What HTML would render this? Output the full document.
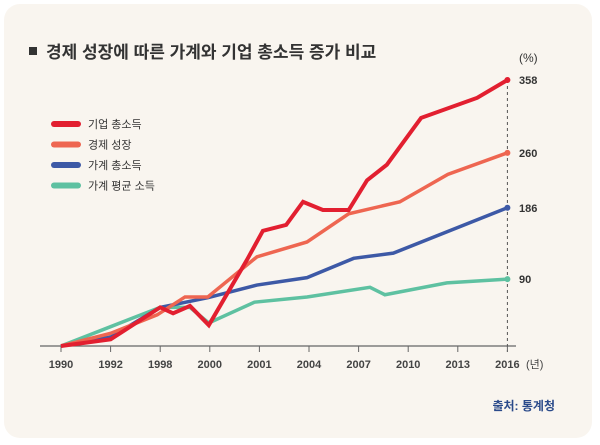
<!DOCTYPE html>
<html><head><meta charset="utf-8"><style>
body{margin:0;background:#fff;width:600px;height:445px;overflow:hidden}
svg{display:block;font-family:"Liberation Sans","Noto Sans CJK KR",sans-serif}
</style></head><body>
<svg width="600" height="445">
<rect x="4" y="4" width="588" height="434" rx="16" fill="#f9f5ef"/>
<rect x="29" y="47" width="8" height="8" fill="#333"/>
<text x="46" y="58" font-size="17" font-weight="bold" fill="#333">경제 성장에 따른 가계와 기업 총소득 증가 비교</text>
<text x="519" y="62" font-size="12" fill="#333">(%)</text>
<g id="legend"></g>
<g id="axis"></g>
<g id="lines"></g>
<text x="555" y="410" font-size="12" font-weight="bold" fill="#2a4a8a" text-anchor="end">출처: 통계청</text>
</svg>
<script>
const categories=["1990","1992","1998","2000","2001","2004","2007","2010","2013","2016"];
const endLabels=["358","260","186","90"];
const seriesNames=["기업 총소득","경제 성장","가계 총소득","가계 평균 소득"];
const colors=["#e21f30","#ee6651","#3d59a6","#5ec1a1"];
const corpX=[0,1,2,2.26,2.6,2.98,3.75,4.07,4.54,4.88,5.28,5.8,6.17,6.57,7.26,8.39,9];
const corpV=[0,9,52,44,54,28,116,155,163,194,183,183,223,244,307,334,358];
const gdpX=[0,1,1.94,2.5,2.96,3.95,4.96,5.8,6.83,7.8,9];
const gdpV=[0,17,42,66,66,120,140,178,194,231,260];
const hhX=[0,1,2,2.96,3.95,4.96,5.9,6.7,9];
const hhV=[0,12,52,65,82,92,118,125,186];
const avgX=[0,1,2,2.6,2.98,3.9,4.96,6.23,6.53,7.78,9];
const avgV=[0,26,52,52,31,59,66,79,69,85,90];
const NS="http://www.w3.org/2000/svg";
const xs=i=>61+i*49.6;
const ys=v=>346-v*0.743;
function mk(t,p){const e=document.createElementNS(NS,t);p.appendChild(e);return e;}
const ax=document.getElementById('axis');
let a=mk('line',ax);a.setAttribute('x1',40);a.setAttribute('x2',516);a.setAttribute('y1',346);a.setAttribute('y2',346);a.setAttribute('stroke','#666');a.setAttribute('stroke-width',1.2);


let d=mk('line',ax);d.setAttribute('x1',xs(9));d.setAttribute('x2',xs(9));d.setAttribute('y1',ys(358));d.setAttribute('y2',352);d.setAttribute('stroke','#555');d.setAttribute('stroke-dasharray','3,3');


categories.forEach((c,i)=>{
 let t=mk('line',ax);t.setAttribute('x1',xs(i));t.setAttribute('x2',xs(i));t.setAttribute('y1',346);t.setAttribute('y2',352);t.setAttribute('stroke','#666');
 
 
 let l=mk('text',ax);l.setAttribute('x',xs(i));l.setAttribute('y',368);l.setAttribute('text-anchor','middle');l.setAttribute('font-size',11);l.setAttribute('font-weight','bold');l.setAttribute('fill','#444');l.textContent=c;
 
 
});
let u=mk('text',ax);u.setAttribute('x',526);u.setAttribute('y',368);u.setAttribute('font-size',11);u.setAttribute('fill','#444');u.textContent='(년)';


const series=[[corpX,corpV],[gdpX,gdpV],[hhX,hhV],[avgX,avgV]];
const lg=mk('g',document.getElementById('lines'));
[3,2,1,0].forEach(k=>{
 const [X,V]=series[k];
 let p=mk('polyline',lg);p.setAttribute('points',X.map((x,j)=>xs(x)+','+ys(V[j])).join(' '));
 p.setAttribute('fill','none');p.setAttribute('stroke',colors[k]);p.setAttribute('stroke-width',k==0?4:3.5);p.setAttribute('stroke-linejoin','miter');
 
 
 let c=mk('circle',lg);c.setAttribute('cx',xs(X[X.length-1]));c.setAttribute('cy',ys(V[V.length-1]));c.setAttribute('r',3);c.setAttribute('fill',colors[k]);
 
 
 let t=mk('text',lg);t.setAttribute('x',519);t.setAttribute('y',ys(V[V.length-1])+4);t.setAttribute('font-size',11);t.setAttribute('font-weight','bold');t.setAttribute('fill','#333');t.textContent=endLabels[k];
 
 
});
const leg=document.getElementById('legend');
seriesNames.forEach((n,k)=>{
 const y=124+k*20.5;
 let l=mk('line',leg);l.setAttribute('x1',54);l.setAttribute('x2',78);l.setAttribute('y1',y);l.setAttribute('y2',y);l.setAttribute('stroke',colors[k]);l.setAttribute('stroke-width',6);l.setAttribute('stroke-linecap','round');
 
 
 let t=mk('text',leg);t.setAttribute('x',88);t.setAttribute('y',y+4);t.setAttribute('font-size',11);t.setAttribute('fill','#333');t.textContent=n;
 
 
});
</script>
</body></html>
